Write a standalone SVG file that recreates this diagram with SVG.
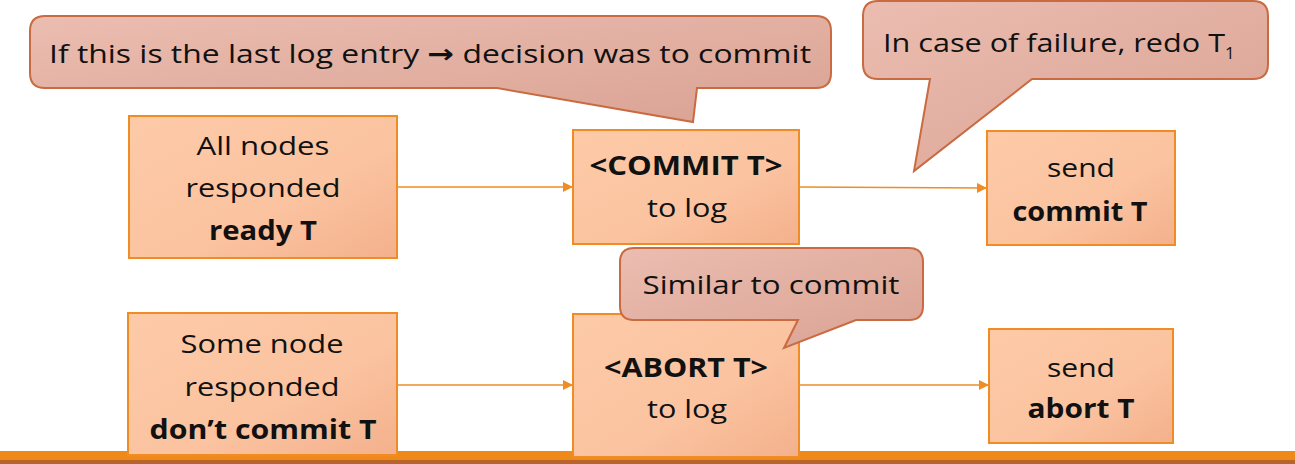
<svg xmlns="http://www.w3.org/2000/svg" width="1295" height="464" viewBox="0 0 1295 464">
<style>
.box{stroke:#ef8d24;stroke-width:2;fill:url(#gBox)}
.call{stroke:#c96a40;stroke-width:2;fill:url(#gCall);stroke-linejoin:miter}
.t{font-family:"Open Sans","Noto Sans","Liberation Sans",sans-serif;font-size:26px;fill:#111;text-anchor:middle}
.b{font-weight:bold}
.conn{stroke:#ef8d24;stroke-width:1.6;fill:none;marker-end:url(#arr)}
</style>
<defs>
<linearGradient id="gBox" x1="0" y1="0" x2="1" y2="1">
<stop offset="0" stop-color="#fdcaa8"/><stop offset="0.6" stop-color="#fbc3a0"/><stop offset="1" stop-color="#f4b08c"/>
</linearGradient>
<linearGradient id="gCall" x1="0" y1="0" x2="1" y2="1">
<stop offset="0" stop-color="#ebbdb0"/><stop offset="1" stop-color="#d9a293"/>
</linearGradient>
<marker id="arr" viewBox="0 0 10 10" refX="10" refY="5" markerWidth="10" markerHeight="10" orient="auto" markerUnits="userSpaceOnUse">
<path d="M0,0 L10,5 L0,10 z" fill="#ef8d24"/>
</marker>
</defs>
<rect x="0" y="0" width="1295" height="464" fill="#fff"/>
<g id="bottom-bar">
<rect x="0" y="451" width="1295" height="9" fill="#ef8a1a"/>
<rect x="0" y="460" width="1295" height="4" fill="#b9642a"/>
</g>
<g id="connectors">
<line class="conn" x1="397" y1="187" x2="573" y2="187"/>
<line class="conn" x1="799" y1="187" x2="987" y2="188"/>
<line class="conn" x1="397" y1="385" x2="573" y2="385"/>
<line class="conn" x1="799" y1="385" x2="989" y2="385"/>
</g>
<g id="n-all-ready">
<rect class="box" x="129" y="116" width="268" height="142"/>
<text class="t" x="263" y="155" textLength="133" lengthAdjust="spacingAndGlyphs">All nodes</text>
<text class="t" x="263" y="197" textLength="155" lengthAdjust="spacingAndGlyphs">responded</text>
<text class="t b" x="263" y="240" textLength="108" lengthAdjust="spacingAndGlyphs">ready T</text>
</g>
<g id="n-commit-log">
<rect class="box" x="573" y="130" width="226" height="114"/>
<text class="t b" x="686" y="175" textLength="193" lengthAdjust="spacingAndGlyphs">&lt;COMMIT T&gt;</text>
<text class="t" x="687" y="217" textLength="80" lengthAdjust="spacingAndGlyphs">to log</text>
</g>
<g id="n-send-commit">
<rect class="box" x="987" y="131" width="188" height="114"/>
<text class="t" x="1081" y="177" textLength="68" lengthAdjust="spacingAndGlyphs">send</text>
<text class="t b" x="1080" y="221" textLength="135" lengthAdjust="spacingAndGlyphs">commit T</text>
</g>
<g id="n-some-dont">
<rect class="box" x="128" y="313" width="269" height="142"/>
<text class="t" x="262" y="353" textLength="163" lengthAdjust="spacingAndGlyphs">Some node</text>
<text class="t" x="262" y="396" textLength="155" lengthAdjust="spacingAndGlyphs">responded</text>
<text class="t b" x="263" y="439" textLength="227" lengthAdjust="spacingAndGlyphs">don’t commit T</text>
</g>
<g id="n-abort-log">
<rect class="box" x="573" y="314" width="226" height="143"/>
<text class="t b" x="686" y="377" textLength="164" lengthAdjust="spacingAndGlyphs">&lt;ABORT T&gt;</text>
<text class="t" x="687" y="418" textLength="80" lengthAdjust="spacingAndGlyphs">to log</text>
</g>
<g id="n-send-abort">
<rect class="box" x="989" y="329" width="184" height="114"/>
<text class="t" x="1081" y="377" textLength="68" lengthAdjust="spacingAndGlyphs">send</text>
<text class="t b" x="1081" y="418" textLength="107" lengthAdjust="spacingAndGlyphs">abort T</text>
</g>
<g id="c-last-log">
<path class="call" d="M45,16 H816 Q831,16 831,31 V73 Q831,88 816,88 H697 L693,122 L497,88 H45 Q30,88 30,73 V31 Q30,16 45,16 Z"/>
<text class="t" x="430" y="63" textLength="762" lengthAdjust="spacingAndGlyphs">If this is the last log entry <tspan font-family="DejaVu Sans" font-weight="bold">→</tspan> decision was to commit</text>
</g>
<g id="c-failure">
<path class="call" d="M878,1 H1253 Q1268,1 1268,16 V64 Q1268,79 1253,79 H1032 L914,171 L930,79 H878 Q863,79 863,64 V16 Q863,1 878,1 Z"/>
<text class="t" x="883" y="52" style="text-anchor:start"><tspan textLength="342" lengthAdjust="spacingAndGlyphs">In case of failure, redo T</tspan><tspan font-size="17" dy="7">1</tspan></text>
</g>
<g id="c-similar">
<path class="call" d="M634,248 H909 Q923,248 923,262 V306 Q923,320 909,320 H856 L784,348 L798,320 H634 Q620,320 620,306 V262 Q620,248 634,248 Z"/>
<text class="t" x="771" y="294" textLength="257" lengthAdjust="spacingAndGlyphs">Similar to commit</text>
</g>
</svg>
